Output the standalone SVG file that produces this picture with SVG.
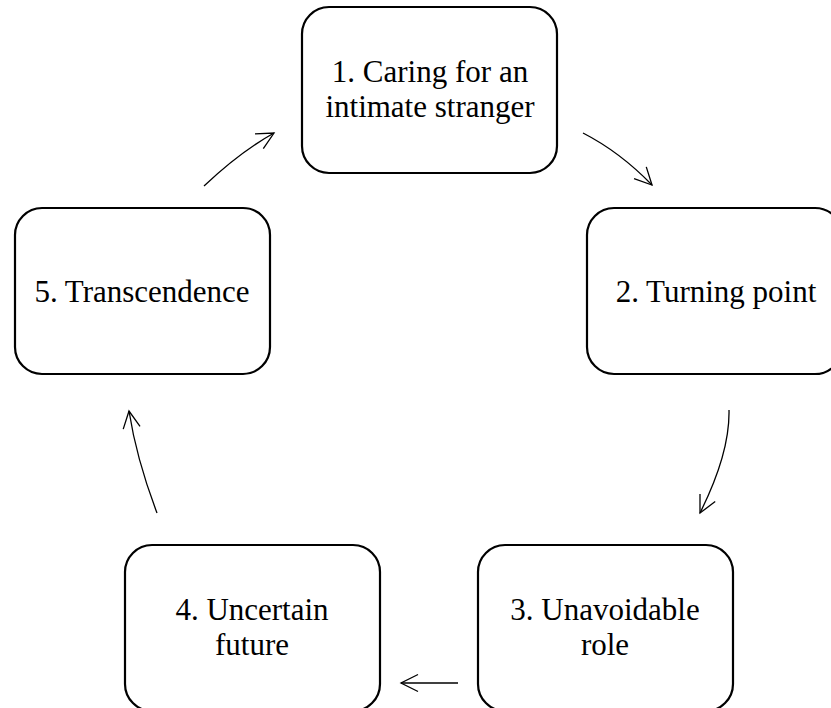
<svg xmlns="http://www.w3.org/2000/svg" width="831" height="708" viewBox="0 0 831 708">
<style>
.box{fill:#fff;stroke:#000;stroke-width:2.2}
.lbl{font-family:"Liberation Serif","Times New Roman",serif;font-size:31px;fill:#000;text-anchor:middle}
.edge{fill:none;stroke:#000;stroke-width:1.3;marker-end:url(#arr)}
</style>
<defs>
<marker id="arr" markerUnits="userSpaceOnUse" viewBox="-20 -12 24 24" refX="0" refY="0" markerWidth="24" markerHeight="24" orient="auto">
<path d="M-17,-8.5 L0,0 L-17,8.5" fill="none" stroke="#000" stroke-width="1.3"/>
</marker>
</defs>
<rect width="831" height="708" fill="#fff"/>
<g id="connectors">
<path class="edge" d="M583,133 Q620,152 652,185"/>
<path class="edge" d="M729,410 Q730,453 700,513"/>
<path class="edge" d="M458,683 L401,683"/>
<path class="edge" d="M157,513 Q136.5,459 129,411"/>
<path class="edge" d="M204,186 Q240,152 274,133"/>
</g>
<g id="node1">
<rect class="box" x="302" y="7" width="255" height="166" rx="27"/>
<text class="lbl" x="430" y="82">1. Caring for an</text>
<text class="lbl" x="430" y="117">intimate stranger</text>
</g>
<g id="node2">
<rect class="box" x="587" y="208" width="255" height="166" rx="27"/>
<text class="lbl" x="716" y="302">2. Turning point</text>
</g>
<g id="node3">
<rect class="box" x="478" y="545" width="255" height="166" rx="27"/>
<text class="lbl" x="605" y="620">3. Unavoidable</text>
<text class="lbl" x="605" y="655">role</text>
</g>
<g id="node4">
<rect class="box" x="125" y="545" width="255" height="166" rx="27"/>
<text class="lbl" x="252" y="620">4. Uncertain</text>
<text class="lbl" x="252" y="655">future</text>
</g>
<g id="node5">
<rect class="box" x="15" y="208" width="255" height="166" rx="27"/>
<text class="lbl" x="142" y="302">5. Transcendence</text>
</g>
</svg>
